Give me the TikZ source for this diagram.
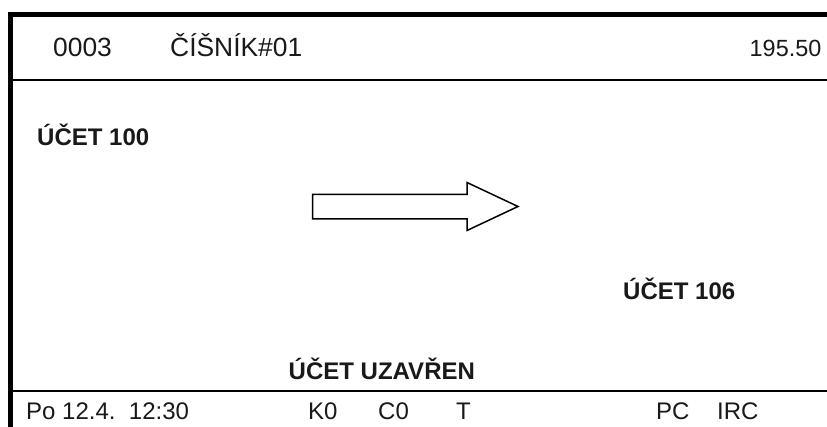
\documentclass[tikz,border=0pt]{standalone}
\usepackage{fontspec}
\setmainfont{Liberation Sans}
\tikzset{
  lab/.style={inner sep=0pt,anchor=base west,text=black!90},
  small/.style={lab,font=\fontsize{24}{28}\selectfont},
  hd/.style={lab,font=\fontsize{26.4}{30}\selectfont},
  amount/.style={lab,anchor=base east,font=\fontsize{23.4}{28}\selectfont},
  bold/.style={lab,font=\fontsize{24}{28}\selectfont\bfseries},
  rule/.style={line width=#1,black,line cap=butt}
}
\begin{document}
\begin{tikzpicture}[x=1pt,y=-1pt]
\useasboundingbox (0,0) rectangle (827,427);
\fill[white] (0,0) rectangle (827,427);
\draw[rule=4.6pt] (8,14.5) -- (827,14.5);
\draw[rule=5pt] (10.7,12.2) -- (10.7,427);
\draw[rule=2.4pt] (8,80) -- (827,80);
\draw[rule=2.4pt] (8,391) -- (827,391);
\draw[line width=1.5pt,line join=miter,fill=white] (312.5,194.5) -- (467,194.5) -- (467,182.5) -- (518,206.5) -- (467,230.5) -- (467,219) -- (312.5,219) -- cycle;
\node[hd] (a) at (53,57) {0003};
\node[hd] (b) at (170,57) {ČÍŠNÍK\#01};
\node[amount] (c) at (821.5,57) {195.50};
\node[bold] (d) at (37,145.5) {ÚČET 100};
\node[bold] (e) at (623,300) {ÚČET 106};
\node[bold] (f) at (288.5,379) {ÚČET UZAVŘEN};
\node[small] (g) at (26,419) {Po 12.4.\ \ 12:30};
\node[small] (h) at (308,419) {K0};
\node[small] (i) at (378,419) {C0};
\node[small] (j) at (456,419) {T};
\node[small] (k) at (656,419) {PC};
\node[small] (l) at (717,419) {IRC};
\end{tikzpicture}
\end{document}
